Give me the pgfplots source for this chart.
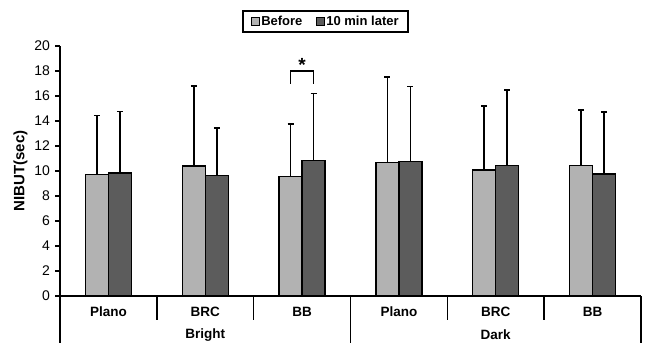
\documentclass[border=0pt]{standalone}
\usepackage{pgfplots}
\pgfplotsset{compat=1.18}
\usepackage{pgfplotstable}
\usepackage{fontspec}
\setmainfont{Liberation Sans}
\definecolor{lightbar}{RGB}{178,178,178}
\definecolor{darkbar}{RGB}{92,92,92}
\pgfplotstableread{
x y e
1 9.75 4.70
2 10.40 6.40
3 9.57 4.20
4 10.70 6.80
5 10.08 5.12
6 10.43 4.47
}\before
\pgfplotstableread{
x y e
1 9.84 4.91
2 9.65 3.80
3 10.83 5.37
4 10.77 5.98
5 10.43 6.07
6 9.76 4.94
}\after
\begin{document}
\begin{tikzpicture}
\begin{axis}[
  scale only axis,
  width=581pt, height=250pt,
  xmin=0.5, xmax=6.5, ymin=0, ymax=20,
  ytick={0,2,...,20},
  xtick=\empty,
  axis lines=left,
  axis line style={-, line width=1.6pt},
  tick align=outside,
  major tick length=5pt,
  tick style={line width=1.2pt, black},
  tick label style={font=\fontsize{14}{14}\selectfont},
  yticklabel style={xshift=-1.5pt},
  /pgf/number format/assume math mode=true,
  ybar, bar width=23pt,
  clip=false,
  area legend,
  legend columns=2,
  legend style={at={(axis description cs:0.457,1)}, anchor=south, yshift=13pt,
    draw=black, line width=1.6pt, font=\bfseries\fontsize{13}{13}\selectfont,
    /tikz/every even column/.append style={column sep=12pt},
    inner xsep=8pt, inner ysep=3pt,
    nodes={inner xsep=1.5pt}},
  legend image code/.code={\draw[#1, line width=0.9pt] (0pt,-4pt) rectangle (8pt,4pt);},
  error bars/y dir=plus, error bars/y explicit,
  error bars/error mark options={rotate=90, mark size=3pt, line width=1.6pt},
  error bars/error bar style={line width=1.6pt, black},
]
\addplot[fill=lightbar, draw=black, line width=1.2pt, bar shift=-11.5pt] table[x=x, y=y, y error=e]{\before};
\addplot[fill=darkbar, draw=black, line width=1.2pt, bar shift=11.5pt] table[x=x, y=y, y error=e]{\after};
\legend{Before, 10 min later}
% significance bracket
\draw[line width=1.5pt] ([xshift=-11.5pt]axis cs:3,17) -- ([xshift=-11.5pt]axis cs:3,18) -- ([xshift=11.5pt]axis cs:3,18) -- ([xshift=11.5pt]axis cs:3,17);
\node[font=\bfseries\fontsize{19}{19}\selectfont, anchor=base, inner sep=0pt] at ([yshift=0pt]axis cs:3,18) {*};
% y label
\node[rotate=90, font=\bfseries\fontsize{15}{15}\selectfont] at ([xshift=-39.5pt]axis description cs:0,0.5) {NIBUT(sec)};
% category separators
\pgfplotsinvokeforeach{1.5,2.5,4.5,5.5}{\draw[line width=1.6pt] (axis cs:#1,0) -- ([yshift=-24pt]axis cs:#1,0);}
\pgfplotsinvokeforeach{0.5,3.5,6.5}{\draw[line width=1.6pt] (axis cs:#1,0) -- ([yshift=-46.5pt]axis cs:#1,0);}
\node[font=\bfseries\fontsize{13.5}{13.5}\selectfont] at ([yshift=-16pt]axis cs:1,0) {Plano};
\node[font=\bfseries\fontsize{13.5}{13.5}\selectfont] at ([yshift=-16pt]axis cs:2,0) {BRC};
\node[font=\bfseries\fontsize{13.5}{13.5}\selectfont] at ([yshift=-16pt]axis cs:3,0) {BB};
\node[font=\bfseries\fontsize{13.5}{13.5}\selectfont] at ([yshift=-16pt]axis cs:4,0) {Plano};
\node[font=\bfseries\fontsize{13.5}{13.5}\selectfont] at ([yshift=-16pt]axis cs:5,0) {BRC};
\node[font=\bfseries\fontsize{13.5}{13.5}\selectfont] at ([yshift=-16pt]axis cs:6,0) {BB};
\node[font=\bfseries\fontsize{13.5}{13.5}\selectfont] at ([yshift=-39pt]axis cs:2,0) {Bright};
\node[font=\bfseries\fontsize{13.5}{13.5}\selectfont] at ([yshift=-39pt]axis cs:5,0) {Dark};
\coordinate (bl) at ([xshift=-60pt,yshift=-47pt]axis cs:0.5,0);
\end{axis}
\path[use as bounding box] (bl) rectangle ++(647pt,343pt);
\end{tikzpicture}
\end{document}
